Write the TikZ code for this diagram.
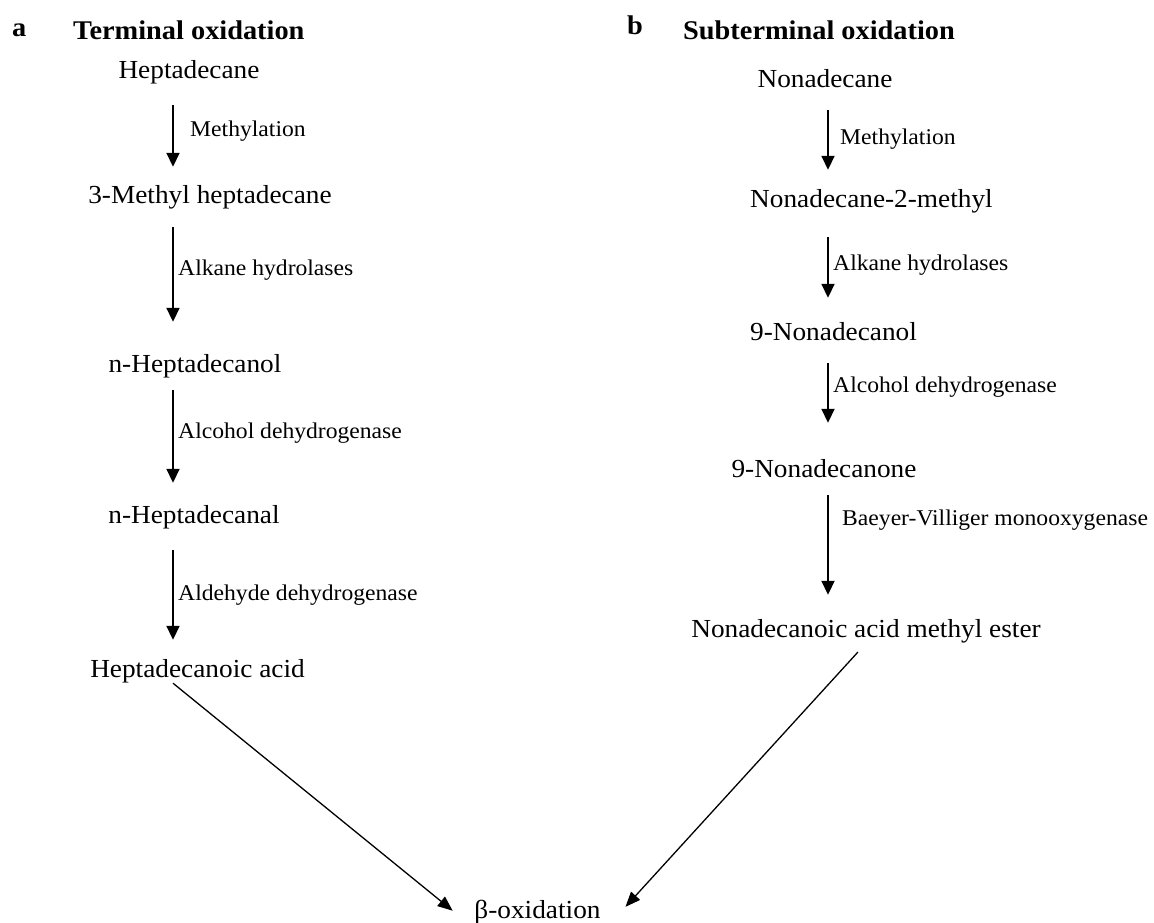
\documentclass[tikz,border=0pt]{standalone}
\usepackage{fontspec}
\setmainfont{Liberation Serif}[FakeStretch=1.05]
\usetikzlibrary{arrows.meta}

\begin{document}
\begin{tikzpicture}[x=1pt, y=-1pt,
  compose/.style={anchor=base, inner sep=0pt, text height=18pt, text depth=6pt,
    font=\fontsize{26}{30}\selectfont},
  enzyme/.style={anchor=base west, inner sep=0pt, font=\fontsize{22.5}{26}\selectfont},
  titre/.style={anchor=base west, inner sep=0pt, font=\bfseries\fontsize{27}{31}\selectfont},
  fleche/.style={-{Triangle[width=13pt,length=14pt]}, line width=1.8pt},
  diag/.style={-{Triangle[width=12pt,length=15pt]}, line width=1.3pt}]

\useasboundingbox (0,0) rectangle (1154,923);

% Colonnes des flèches
\coordinate (gx) at (173,0);
\coordinate (dx) at (828,0);

% Titres
\node[titre] (a) at (12,37) {a};
\node[titre] (ta) at (73,40) {Terminal oxidation};
\node[titre] (b) at (627,35) {b};
\node[titre] (tb) at (683,40) {Subterminal oxidation};

% Oxydation terminale
\node[compose] (hep)   at (189,79)    {Heptadecane};
\node[compose] (mhep)  at (210,204)   {3-Methyl heptadecane};
\node[compose] (hol)   at (195,372)   {n-Heptadecanol};
\node[compose] (hal)   at (194,523)   {n-Heptadecanal};
\node[compose] (hacid) at (197.5,677) {Heptadecanoic acid};

\node[enzyme] (met1) at (190,137) {Methylation};
\node[enzyme] (alk1) at (178,275) {Alkane hydrolases};
\node[enzyme] (alc1) at (178,438) {Alcohol dehydrogenase};
\node[enzyme] (ald1) at (178,600) {Aldehyde dehydrogenase};

\draw[fleche, shorten <=20pt, shorten >=19pt] (hep.south -| gx) -- (mhep.north -| gx);
\draw[fleche, shorten <=17pt, shorten >=32pt] (mhep.south -| gx) -- (hol.north -| gx);
\draw[fleche, shorten <=12pt, shorten >=22pt] (hol.south -| gx) -- (hal.north -| gx);
\draw[fleche, shorten <=21pt, shorten >=19pt] (hal.south -| gx) -- (hacid.north -| gx);

% Oxydation subterminale
\node[compose] (non)   at (825,88)    {Nonadecane};
\node[compose] (nme)   at (871.5,207) {Nonadecane-2-methyl};
\node[compose] (nol)   at (833.5,340) {9-Nonadecanol};
\node[compose] (none)  at (824,477)   {9-Nonadecanone};
\node[compose] (ester) at (866,637)   {Nonadecanoic acid methyl ester};

\node[enzyme] (met2) at (840,145) {Methylation};
\node[enzyme] (alk2) at (833,270) {Alkane hydrolases};
\node[enzyme] (alc2) at (833,392) {Alcohol dehydrogenase};
\node[enzyme] (bv)   at (842,525) {Baeyer-Villiger monooxygenase};

\draw[fleche, shorten <=16pt, shorten >=19pt] (non.south -| dx) -- (nme.north -| dx);
\draw[fleche, shorten <=24pt, shorten >=24pt] (nme.south -| dx) -- (nol.north -| dx);
\draw[fleche, shorten <=17pt, shorten >=36pt] (nol.south -| dx) -- (none.north -| dx);
\draw[fleche, shorten <=12pt, shorten >=24pt] (none.south -| dx) -- (ester.north -| dx);

% Beta-oxydation
\node[compose, inner xsep=20pt] (beta) at (537.5,918) {β-oxidation};
\draw[diag, shorten >=2pt] (hacid.south -| gx) -- (beta.west);
\draw[diag, shorten <=12pt, shorten >=7pt] (ester.south) -- (beta.east);

\end{tikzpicture}
\end{document}
